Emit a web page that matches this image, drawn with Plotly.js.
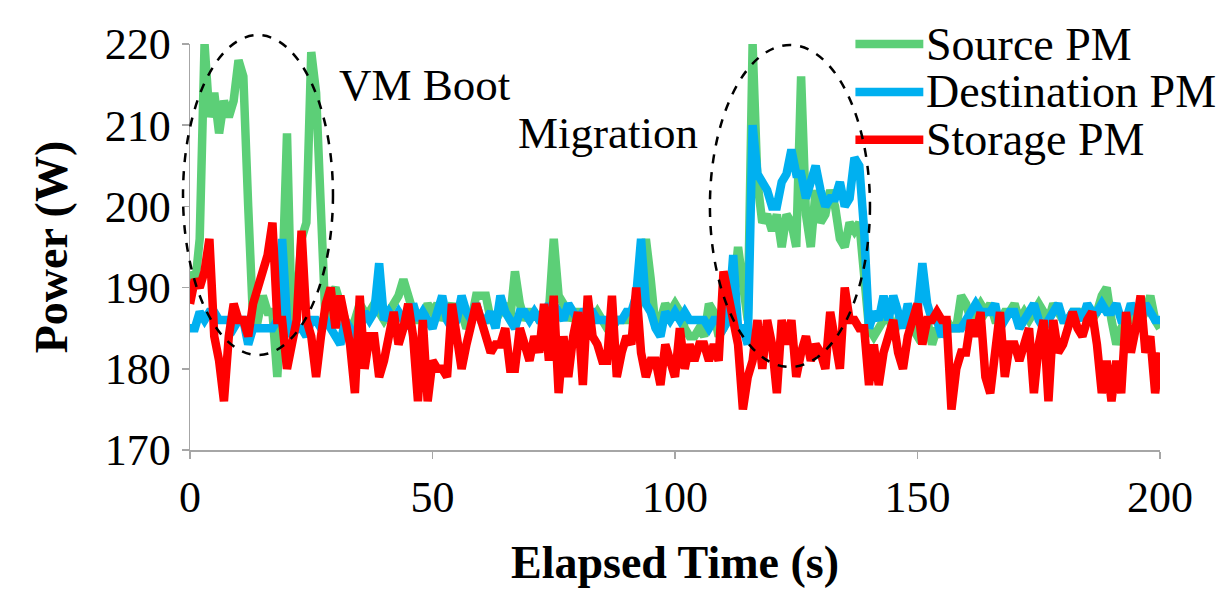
<!DOCTYPE html>
<html>
<head>
<meta charset="utf-8">
<script src="https://cdn.plot.ly/plotly-3.0.1.min.js"></script>
<style>html,body{margin:0;padding:0;background:#fff;}#chart{width:1222px;height:599px;}</style>
</head>
<body>
<div id="chart"></div>
<script>
const elapsedTime = [0,1,2,3,4,5,6,7,8,9,10,11,12,13,14,15,16,17,18,19,20,21,22,23,24,25,26,27,28,29,
30,31,32,33,34,35,36,37,38,39,40,41,42,43,44,45,46,47,48,49,
50,51,52,53,54,55,56,57,58,59,60,61,62,63,64,65,66,67,68,69,
70,71,72,73,74,75,76,77,78,79,80,81,82,83,84,85,86,87,88,89,
90,91,92,93,94,95,96,97,98,99,100,101,102,103,104,105,106,107,108,109,
110,111,112,113,114,115,116,117,118,119,120,121,122,123,124,125,126,127,128,129,
130,131,132,133,134,135,136,137,138,139,140,141,142,143,144,145,146,147,148,149,
150,151,152,153,154,155,156,157,158,159,160,161,162,163,164,165,166,167,168,169,
170,171,172,173,174,175,176,177,178,179,180,181,182,183,184,185,186,187,188,189,
190,191,192,193,194,195,196,197,198,199,200];

const sourcePM = [192,190,196,220,211,214,209,213,211,213,218,216,200,186,186,189,187,187,179,190,209,185,188,196,198,219,214,196,185,189,
190,188,186,185,186,188,187,187,188,187,186,187,188,189,191,189,187,186,186,188,
187,188,186,187,188,186,187,185,186,189,189,189,186,186,187,188,186,192,188,186,
187,187,186,186,187,196,189,188,186,187,187,186,185,186,187,186,185,185,186,186,
186,186,186,190,196,191,185,186,188,187,188,187,185,184,184,185,184,188,187,184,
185,187,189,195,190,186,220,203,198,199,197,199,195,199,198,195,216,199,195,202,
198,199,202,200,196,195,198,197,198,190,185,184,185,186,187,184,186,186,186,185,
184,185,186,183,185,184,186,185,185,189,188,186,187,188,187,188,186,186,187,187,
188,186,187,186,187,188,187,186,188,187,186,186,187,187,187,187,186,187,189,190,
186,183,185,186,186,187,186,187,189,186,185];

const destinationPM = [185,185,187,186,187,187,186,186,186,185,186,186,183,185,185,185,185,185,186,196,186,184,185,185,184,186,186,185,186,185,
184,183,186,185,183,185,187,186,187,193,186,187,186,187,186,185,188,186,187,186,
185,187,189,186,185,186,189,187,186,188,186,186,187,185,189,187,186,185,187,187,
186,187,186,186,188,186,187,186,188,187,186,187,187,187,186,186,186,185,186,186,
187,187,189,196,188,187,185,184,187,186,187,186,187,186,186,186,186,185,186,186,
185,186,194,185,185,183,210,204,203,202,200,200,203,204,207,204,204,201,203,205,
202,200,201,201,203,200,201,206,205,197,185,187,186,189,186,189,187,185,188,186,
187,193,188,186,186,184,185,185,185,185,186,187,188,187,187,187,188,185,186,187,
187,185,186,187,188,186,185,186,187,188,186,186,187,187,186,188,187,187,188,187,
187,188,186,186,188,187,186,188,187,186,186];

const storagePM = [188,191,190,192,196,184,181,176,184,188,186,186,184,188,190,192,194,198,186,186,180,183,186,197,186,184,179,184,188,190,
185,189,186,183,177,189,180,184,184,179,181,184,187,183,185,188,184,176,186,176,
181,180,180,179,188,184,180,183,186,188,186,184,182,183,183,185,180,180,185,183,
181,184,182,188,181,189,177,184,179,184,187,178,189,184,183,181,181,189,179,182,
184,183,190,182,179,181,181,178,183,181,179,185,180,183,181,183,183,181,183,181,
192,189,186,183,175,179,181,186,180,186,183,177,186,183,186,179,182,184,181,183,
182,180,187,183,180,190,186,186,185,185,178,183,178,182,184,186,182,180,184,186,
188,183,186,186,187,186,186,175,180,182,182,186,184,187,179,177,183,187,179,183,
183,181,183,185,177,183,186,176,186,182,183,185,187,185,184,186,187,183,177,181,
176,181,177,187,182,185,189,182,184,177,182];

const seriesNames = ['Source PM', 'Destination PM', 'Storage PM'];
const seriesColors = ['#5ccf77', '#00b0f0', '#ff0000'];
const seriesValues = [sourcePM, destinationPM, storagePM];
const xTicks = [0, 50, 100, 150, 200];
const yTicks = [170, 180, 190, 200, 210, 220];

const FONT = '"Liberation Serif", "Times New Roman", serif';

const traces = seriesValues.map((vals, i) => ({
  type: 'scatter', mode: 'lines', x: elapsedTime, y: vals, name: seriesNames[i],
  line: {color: seriesColors[i], width: 8.5, shape: 'linear'}, showlegend: false, cliponaxis: true
}));

// custom legend (long line samples like the original)
const legendY = [1.0, 0.882, 0.764];
const shapes = [];
const annotations = [];
seriesNames.forEach((n, i) => {
  shapes.push({type: 'line', xref: 'paper', yref: 'paper', x0: 0.686, x1: 0.756, y0: legendY[i], y1: legendY[i],
    line: {color: seriesColors[i], width: 8.5}});
  annotations.push({xref: 'paper', yref: 'paper', x: 0.757, y: legendY[i], xanchor: 'left', yanchor: 'middle',
    text: n, showarrow: false, font: {family: FONT, size: 46, color: '#000'}});
});
// dashed ellipses (paper coords so they are not clipped at the axes)
shapes.push({type: 'circle', xref: 'paper', yref: 'paper', x0: -0.0072, x1: 0.1474, y0: 0.234, y1: 1.022,
  line: {color: '#000', width: 2.5, dash: 'dash'}});
shapes.push({type: 'circle', xref: 'paper', yref: 'paper', x0: 0.536, x1: 0.701, y0: 0.2044, y1: 0.9975,
  line: {color: '#000', width: 2.5, dash: 'dash'}});
annotations.push({xref: 'paper', yref: 'paper', x: 0.242, y: 0.899, xanchor: 'center', yanchor: 'middle',
  text: 'VM Boot', showarrow: false, font: {family: FONT, size: 45, color: '#000'}});
annotations.push({xref: 'paper', yref: 'paper', x: 0.431, y: 0.781, xanchor: 'center', yanchor: 'middle',
  text: 'Migration', showarrow: false, font: {family: FONT, size: 45, color: '#000'}});

const layout = {
  width: 1222, height: 599,
  margin: {l: 190, r: 62, t: 44, b: 149},
  paper_bgcolor: '#fff', plot_bgcolor: '#fff',
  font: {family: FONT, color: '#000'},
  xaxis: {
    range: [0, 200], tickvals: xTicks, ticktext: xTicks.map(String),
    showgrid: false, zeroline: false, showline: true, linecolor: '#a6a6a6', linewidth: 1.5,
    ticks: 'outside', ticklen: 7, tickcolor: '#a6a6a6', tickwidth: 1.5,
    tickfont: {family: FONT, size: 44, color: '#000'}, ticklabelstandoff: 1,
    title: {text: '<b>Elapsed Time (s)</b>', font: {family: FONT, size: 46, color: '#000'}, standoff: 24},
    automargin: false, fixedrange: true
  },
  yaxis: {
    range: [170, 220], tickvals: yTicks, ticktext: yTicks.map(String),
    showgrid: false, zeroline: false, showline: true, linecolor: '#a6a6a6', linewidth: 1.5,
    ticks: 'outside', ticklen: 7, tickcolor: '#a6a6a6', tickwidth: 1.5,
    tickfont: {family: FONT, size: 44, color: '#000'}, ticklabelstandoff: 2,
    title: {text: '<b>Power (W)</b>', font: {family: FONT, size: 46, color: '#000'}, standoff: 22},
    automargin: false, fixedrange: true
  },
  shapes: shapes, annotations: annotations, showlegend: false
};

Plotly.newPlot('chart', traces, layout, {displayModeBar: false, staticPlot: true});
</script>
</body>
</html>
